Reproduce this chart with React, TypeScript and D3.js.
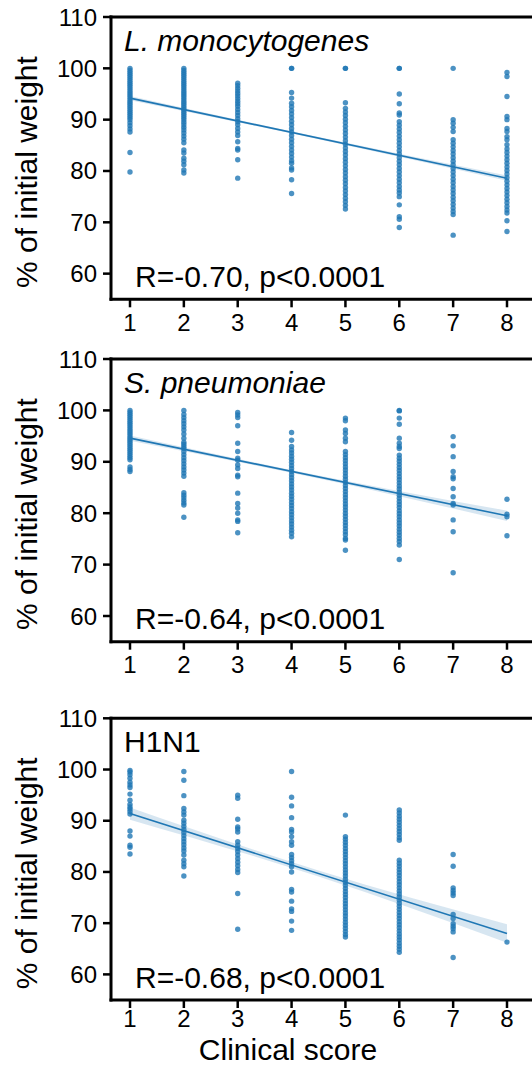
import React from "react";
import { scaleLinear, line, area, curveNatural } from "d3";

// clinical scores on the x axis
const scores = [1, 2, 3, 4, 5, 6, 7, 8];
const yTicks = [60, 70, 80, 90, 100, 110];

// L. monocytogenes, % of initial weight per clinical score
const lm1 = [100, 99.6, 99.2, 98.8, 98.4, 98.0, 97.6, 97.2, 96.8, 96.4, 96.0, 95.6, 95.2, 94.8, 94.4, 94.0, 93.6, 93.2, 92.8, 92.4, 92.0, 91.6, 91.2, 90.8, 90.4, 90.0, 89.4, 88.8, 88.2, 87.6, 83.6, 79.8];
const lm2 = [100, 99.6, 99.2, 98.8, 98.4, 98.0, 97.6, 97.2, 96.8, 96.4, 96.0, 95.6, 95.2, 94.8, 94.4, 94.0, 93.6, 93.2, 92.8, 92.4, 92.0, 91.6, 91.2, 90.8, 90.4, 90.0, 89.5, 89.0, 88.5, 88.0, 87.4, 86.8, 86.2, 85.5, 84.1, 83.5, 82.5, 81.9, 81.2, 80.2, 79.6];
const lm3 = [97.1, 96.6, 96.1, 95.6, 95.1, 94.6, 94.1, 93.6, 93.1, 92.6, 92.0, 91.4, 90.8, 90.2, 89.6, 89.0, 88.3, 87.6, 86.9, 85.7, 84.4, 84.1, 82.2, 78.6];
const lm4 = [100, 100, 95.3, 94.2, 93.2, 92.5, 91.8, 91.1, 90.4, 89.7, 89.0, 88.3, 87.6, 86.9, 86.2, 85.5, 84.8, 84.1, 83.4, 82.7, 82.0, 81.5, 80.6, 80.2, 78.3, 75.6];
const lm5 = [100, 100, 93.3, 92.2, 91.5, 90.8, 90.1, 89.4, 88.7, 88.0, 87.3, 86.6, 85.9, 85.2, 84.5, 83.8, 83.1, 82.4, 81.7, 81.0, 80.3, 79.6, 78.9, 78.2, 77.5, 76.8, 76.1, 75.4, 74.7, 74.0, 73.3, 72.6];
const lm6 = [100, 100, 95.0, 93.1, 91.3, 90.9, 89.6, 88.9, 88.2, 87.5, 86.8, 86.1, 85.4, 84.7, 84.0, 83.3, 82.6, 81.9, 81.2, 80.5, 79.8, 79.1, 78.4, 77.7, 77.0, 76.3, 75.7, 75.0, 73.4, 71.1, 70.6, 69.0];
const lm7 = [100, 90.0, 89.3, 88.5, 87.7, 86.1, 85.4, 84.7, 84.0, 83.3, 82.6, 81.9, 81.2, 80.5, 79.8, 79.1, 78.4, 77.7, 77.0, 76.3, 75.6, 74.9, 74.2, 73.5, 72.8, 72.1, 71.5, 67.5];
const lm8 = [99.2, 98.4, 94.5, 90.6, 90.0, 88.3, 87.7, 86.7, 86.1, 85.1, 84.3, 83.6, 82.9, 82.2, 81.5, 80.8, 80.1, 79.4, 78.7, 78.0, 77.3, 76.6, 75.9, 75.2, 74.5, 73.8, 73.1, 72.4, 71.8, 70.3, 68.2];

// S. pneumoniae
const sp1 = [100, 99.6, 99.2, 98.8, 98.4, 98.0, 97.6, 97.2, 96.8, 96.4, 96.0, 95.6, 95.2, 94.8, 94.4, 94.0, 93.6, 93.2, 92.8, 92.4, 92.0, 91.6, 91.2, 90.8, 90.4, 89.0, 88.5, 88.1];
const sp2 = [100, 99.2, 98.6, 98.0, 97.4, 96.8, 96.2, 95.4, 94.6, 93.8, 93.4, 93.0, 92.6, 92.0, 91.4, 90.8, 90.2, 89.6, 89.0, 88.4, 87.8, 87.2, 84.0, 83.5, 83.0, 82.5, 82.0, 81.6, 79.2];
const sp3 = [99.6, 99.1, 98.6, 97.0, 93.6, 92.0, 90.7, 90.3, 89.4, 88.7, 87.4, 87.1, 83.9, 81.9, 81.0, 80.0, 78.7, 78.4, 76.2];
const sp4 = [95.7, 94.2, 93.0, 92.3, 91.7, 91.1, 90.5, 89.9, 89.3, 88.7, 88.1, 87.5, 86.9, 86.3, 85.7, 85.1, 84.5, 83.9, 83.3, 82.7, 82.1, 81.5, 80.9, 80.3, 79.7, 79.1, 78.5, 77.9, 77.3, 76.7, 76.1, 75.4];
const sp5 = [98.5, 98.0, 96.2, 95.5, 94.6, 93.9, 92.0, 91.4, 90.8, 90.2, 89.6, 89.0, 88.4, 87.8, 87.2, 86.6, 86.0, 85.4, 84.8, 84.2, 83.6, 83.0, 82.4, 81.8, 81.2, 80.6, 80.0, 79.4, 78.8, 78.2, 77.6, 77.0, 76.4, 75.8, 75.1, 74.8, 72.8];
const sp6 = [100, 99.9, 98.5, 97.3, 94.6, 93.6, 93.0, 92.6, 91.3, 90.7, 90.1, 89.5, 88.9, 88.3, 87.7, 87.1, 86.5, 85.9, 85.3, 84.7, 84.1, 83.5, 82.9, 82.3, 81.7, 81.1, 80.5, 79.9, 79.3, 78.7, 78.1, 77.5, 76.9, 76.3, 75.7, 75.1, 74.5, 73.8, 71.0];
const sp7 = [94.9, 93.1, 91.0, 88.1, 87.1, 86.7, 84.8, 83.2, 81.9, 81.6, 78.7, 76.4, 68.4];
const sp8 = [82.7, 79.8, 79.3, 75.6];

// H1N1
const h1 = [99.8, 99.5, 99.0, 98.3, 97.5, 97.0, 96.5, 95.2, 94.0, 93.2, 92.7, 92.3, 91.8, 91.3, 88.0, 87.0, 85.2, 84.8, 83.5];
const h2 = [99.6, 97.9, 94.9, 92.4, 91.7, 91.1, 90.1, 89.5, 88.9, 88.3, 87.7, 87.1, 86.5, 85.9, 85.3, 84.7, 84.1, 83.3, 82.3, 81.6, 81.0, 79.2];
const h3 = [95.0, 94.4, 90.3, 88.8, 88.4, 87.8, 85.9, 85.2, 84.6, 84.0, 83.3, 82.6, 81.9, 81.2, 80.5, 79.9, 75.8, 68.8];
const h4 = [99.6, 94.6, 92.9, 90.6, 88.3, 87.8, 86.9, 85.9, 85.2, 83.4, 82.8, 82.2, 81.6, 81.0, 80.0, 76.6, 76.1, 74.3, 72.8, 72.3, 70.4, 68.6];
const h5 = [91.1, 86.9, 86.4, 85.8, 85.2, 84.6, 84.0, 83.4, 82.8, 82.2, 81.6, 81.0, 80.4, 79.8, 79.2, 78.6, 78.0, 77.4, 76.8, 76.2, 75.6, 75.0, 74.4, 73.8, 73.2, 72.6, 72.0, 71.4, 70.8, 70.2, 69.6, 69.0, 68.4, 67.8, 67.3];
const h6 = [92.1, 91.5, 90.9, 90.3, 89.7, 89.1, 88.5, 87.9, 87.3, 86.7, 86.2, 82.3, 81.7, 81.1, 80.5, 79.9, 79.3, 78.7, 78.1, 77.5, 76.9, 76.3, 75.7, 75.1, 74.5, 73.9, 73.3, 72.7, 72.1, 71.5, 70.9, 70.3, 69.7, 69.1, 68.5, 67.9, 67.3, 66.7, 66.1, 65.5, 64.9, 64.3];
const h7 = [83.4, 81.1, 76.9, 76.4, 75.9, 75.4, 71.7, 70.9, 69.9, 69.4, 68.9, 68.3, 63.3];
const h8 = [66.3];

const listeria = [lm1, lm2, lm3, lm4, lm5, lm6, lm7, lm8];
const pneumo = [sp1, sp2, sp3, sp4, sp5, sp6, sp7, sp8];
const flu = [h1, h2, h3, h4, h5, h6, h7, h8];

const panelData = [listeria, pneumo, flu];
const panelTitles = ["L. monocytogenes", "S. pneumoniae", "H1N1"];
const titleItalic = [true, true, false];
const statLabels = ["R=-0.70, p<0.0001", "R=-0.64, p<0.0001", "R=-0.68, p<0.0001"];

// regression fit (value at score 1 and 8) and CI half widths
const fitAt1 = [94.2, 94.6, 91.4];
const fitAt8 = [78.6, 79.5, 68.0];
const ciAt1 = [0.4, 0.5, 1.2];
const ciMid = [0.2, 0.3, 0.6];
const ciAt8 = [0.5, 1.0, 1.8];

const W = 532;
const H = 1067;
const BLUE = "#1f77b4";
const FONT = "'Liberation Sans', Arial, sans-serif";

// layout of each panel
const tops = [17, 359, 718.3];
const bottoms = [299.3, 641.7, 1000];
const tickLabelOffset = [32, 31.6, 26.7];
const axisX = 111;

const x = scaleLinear().domain([1, 8]).range([130, 507]);

function Panel({ i }) {
  const top = tops[i];
  const bottom = bottoms[i];
  const y = scaleLinear().domain([55, 110]).range([bottom, top]);

  const fitLine = line()
    .x((d) => x(d[0]))
    .y((d) => y(d[1]));

  const fitPts = [
    [1, fitAt1[i]],
    [8, fitAt8[i]],
  ];
  const fitVal = (s) => fitAt1[i] + ((fitAt8[i] - fitAt1[i]) * (s - 1)) / 7;
  const band = [
    [1, ciAt1[i]],
    [4.5, ciMid[i]],
    [8, ciAt8[i]],
  ];
  const bandArea = area()
    .x((d) => x(d[0]))
    .y0((d) => y(fitVal(d[0]) - d[1]))
    .y1((d) => y(fitVal(d[0]) + d[1]))
    .curve(curveNatural);

  const cols = panelData[i];

  return (
    <g>
      <path d={bandArea(band)} fill={BLUE} opacity={0.18} />
      {cols.map((vals, ci) =>
        vals.map((v, k) => (
          <circle key={ci + "-" + k} cx={x(scores[ci])} cy={y(v)} r={2.7} fill={BLUE} opacity={0.8} />
        ))
      )}
      <path d={fitLine(fitPts)} stroke={BLUE} strokeWidth={1.6} fill="none" />

      {/* spines */}
      <line x1={axisX} x2={axisX} y1={top} y2={bottom} stroke="#000" strokeWidth={3} strokeLinecap="square" />
      <line x1={axisX} x2={W + 5} y1={bottom} y2={bottom} stroke="#000" strokeWidth={3} strokeLinecap="square" />
      <line x1={axisX} x2={W + 5} y1={top} y2={top} stroke="#000" strokeWidth={3} strokeLinecap="square" />

      {yTicks.map((t) => (
        <g key={"y" + t}>
          <line x1={axisX - 8} x2={axisX} y1={y(t)} y2={y(t)} stroke="#000" strokeWidth={2.5} />
          <text x={axisX - 14} y={y(t) + 8.5} textAnchor="end" fontSize={24} fontFamily={FONT}>
            {t}
          </text>
        </g>
      ))}
      {scores.map((s) => (
        <g key={"x" + s}>
          <line x1={x(s)} x2={x(s)} y1={bottom} y2={bottom + 8} stroke="#000" strokeWidth={2.5} />
          <text x={x(s)} y={bottom + tickLabelOffset[i]} textAnchor="middle" fontSize={24} fontFamily={FONT}>
            {s}
          </text>
        </g>
      ))}

      <text x={124} y={top + 34} fontSize={30} fontFamily={FONT} fontStyle={titleItalic[i] ? "italic" : "normal"}>
        {panelTitles[i]}
      </text>
      <text x={135} y={top + 270} fontSize={30} fontFamily={FONT}>
        {statLabels[i]}
      </text>
      <text
        transform={`translate(37,${top + 155}) rotate(-90)`}
        textAnchor="middle"
        fontSize={30}
        fontFamily={FONT}
      >
        % of initial weight
      </text>
    </g>
  );
}

export default function App() {
  return (
    <div style={{ position: "absolute", left: 0, top: 0 }}>
      <svg width={W} height={H} style={{ display: "block", background: "#fff" }}>
        {panelData.map((_, i) => (
          <Panel key={i} i={i} />
        ))}
        <text x={288} y={1060} textAnchor="middle" fontSize={30} fontFamily={FONT}>
          Clinical score
        </text>
      </svg>
    </div>
  );
}
